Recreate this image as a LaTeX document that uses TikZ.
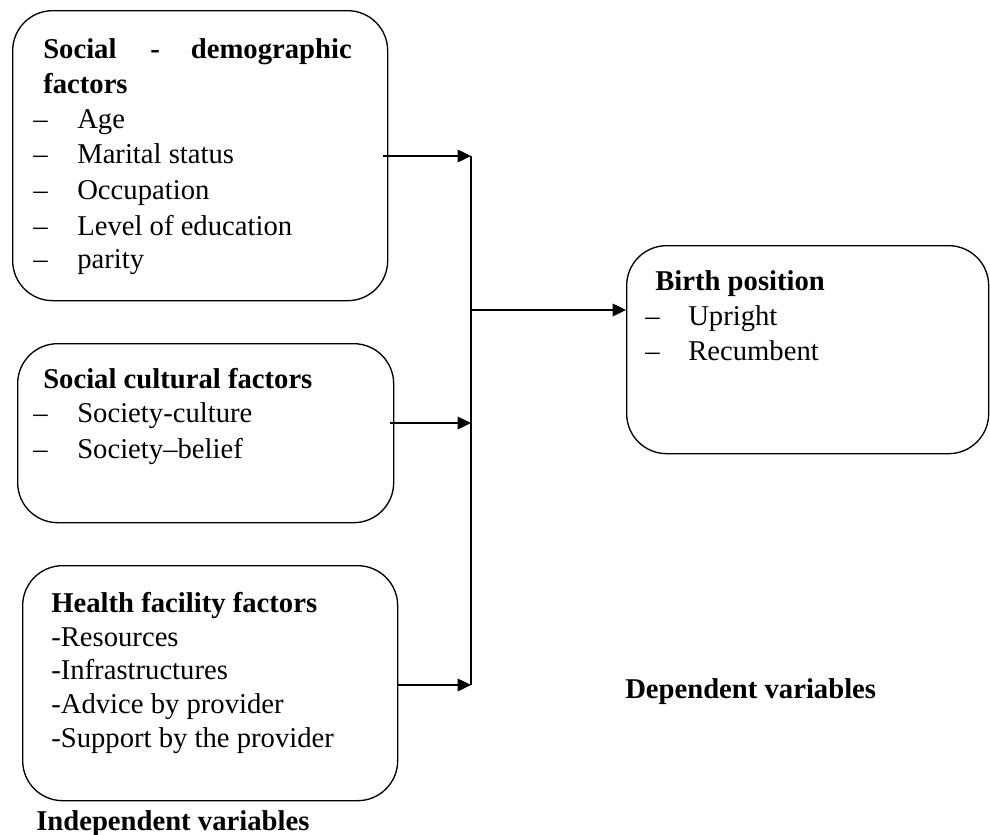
\documentclass[tikz,border=0pt]{standalone}
\usepackage{fontspec}
\setmainfont{Liberation Serif}
\usetikzlibrary{arrows.meta}
\begin{document}
\begin{tikzpicture}[x=0.75pt,y=-0.75pt,
  box/.style={draw,line width=1pt,rounded corners=30pt,anchor=north west,inner sep=0pt},
  txt/.style={anchor=base west,inner sep=0pt,font=\fontsize{21.5pt}{26pt}\selectfont},
  ttl/.style={txt,font=\fontsize{21.5pt}{26pt}\selectfont\bfseries},
  conn/.style={line width=1pt},
  arr/.style={line width=1pt,-{Triangle[length=10pt,width=9.5pt]}}]
\useasboundingbox (0,0) rectangle (990,835);
% boxes
\node[box,minimum width=281.25pt,minimum height=217.5pt] (b1) at (12,10) {};
\node[box,minimum width=282pt,minimum height=134.25pt] (b2) at (17,343) {};
\node[box,minimum width=281.25pt,minimum height=176.25pt] (b3) at (22,565) {};
\node[box,minimum width=271.5pt,minimum height=156pt] (b4) at (626,245) {};
% box 1 text
\node[ttl] (t1a) at (43,58) {Social};
\node[ttl] (t1b) at (150,58) {-};
\node[ttl,anchor=base east] (t1c) at (352,58) {demographic};
\node[ttl] (t1d) at (43,93) {factors};
\foreach \y/\t [count=\i] in {128/Age,163/Marital status,199/Occupation,235/Level of education,268/parity}{
  \node[txt] (d1\i) at (33,\y) {–};
  \node[txt] (i1\i) at (77,\y) {\t};
}
% box 2 text
\node[ttl] (t2) at (43,388) {Social cultural factors};
\node[txt] (d21) at (33,422) {–};
\node[txt] (i21) at (77,422) {Society-culture};
\node[txt] (d22) at (33,458) {–};
\node[txt] (i22) at (77,458) {Society–belief};
% box 3 text
\node[ttl] (t3) at (51,612) {Health facility factors};
\node[txt] (i31) at (51,646) {-Resources};
\node[txt] (i32) at (51,679) {-Infrastructures};
\node[txt] (i33) at (51,713) {-Advice by provider};
\node[txt] (i34) at (51,747) {-Support by the provider};
% box 4 text
\node[ttl] (t4) at (655,290) {Birth position};
\node[txt] (d41) at (645,325) {–};
\node[txt] (i41) at (688,325) {Upright};
\node[txt] (d42) at (645,360) {–};
\node[txt] (i42) at (688,360) {Recumbent};
% captions
\node[ttl] (indep) at (36,830) {Independent variables};
\node[ttl] (dep) at (625,698) {Dependent variables};
% connectors
\coordinate (a1) at (383,156);
\coordinate (j1) at (471,156);
\coordinate (a2) at (390,423);
\coordinate (j2) at (471,423);
\coordinate (j3) at (471,685);
\coordinate (jm) at (471,310);
\draw[arr] (a1) -- (j1);
\draw[arr] (a2) -- (j2);
\draw[arr] (b3.east |- j3) -- (j3);
\draw[conn] (j1) -- (j3);
\draw[arr] (jm) -- (b4.west |- jm);
\end{tikzpicture}
\end{document}
